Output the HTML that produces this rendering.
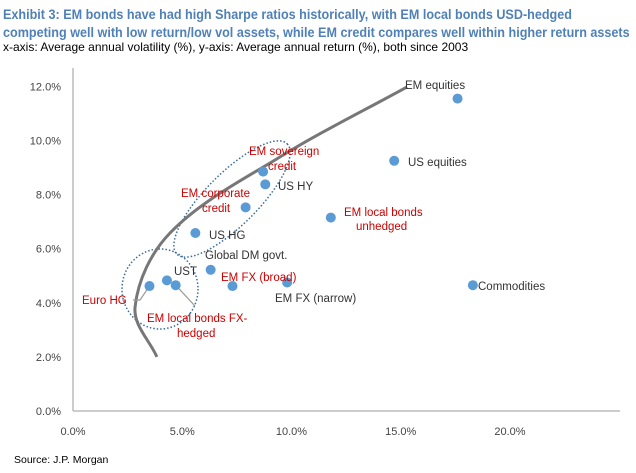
<!DOCTYPE html>
<html><head><meta charset="utf-8">
<style>
body{margin:0;background:#fff;font-family:"Liberation Sans",Arial,sans-serif;}
#wrap{position:relative;width:636px;height:473px;overflow:hidden;}
.t{position:absolute;left:3px;color:#4f81b8;font-weight:bold;font-size:14px;line-height:18px;white-space:nowrap;transform:scaleX(0.9);transform-origin:0 0}
</style></head><body>
<div id="wrap">
<div class="t" style="top:5px">Exhibit 3: EM bonds have had high Sharpe ratios historically, with EM local bonds USD-hedged<br>competing well with low return/low vol assets, while EM credit compares well within higher return assets</div>
<div style="position:absolute;left:3px;top:40px;font-size:12px;color:#000;white-space:nowrap">x-axis: Average annual volatility (%), y-axis: Average annual return (%), both since 2003</div>
<div style="position:absolute;left:14px;top:454px;font-size:10.5px;color:#000">Source: J.P. Morgan</div>
<svg id="svg" width="636" height="473" style="position:absolute;left:0;top:0"></svg>
</div>
<script>
const names=["EM equities","US equities","Commodities","EM local bonds unhedged","EM FX (narrow)","EM FX (broad)","Global DM govt.","US HG","EM corporate credit","US HY","EM sovereign credit","UST","EM local bonds FX-hedged","Euro HG"];
const vol=[17.6,14.7,18.3,11.8,9.8,7.3,6.3,5.6,7.9,8.8,8.7,4.3,4.7,3.5];
const ret=[11.55,9.25,4.65,7.15,4.75,4.62,5.22,6.58,7.53,8.38,8.85,4.83,4.65,4.62];
const frontierVol=[3.84,2.84,4.44,9.47,15.29];
const frontierRet=[2.0,3.84,6.58,9.39,11.98];
const xTicks=[0,5,10,15,20];
const yTicks=[0,2,4,6,8,10,12];
const X=v=>73+v*21.85, Y=v=>411-v*27.05;
const svg=document.getElementById('svg'),NS="http://www.w3.org/2000/svg";
function el(t,a,p){const e=document.createElementNS(NS,t);for(const k in a)e.setAttribute(k,a[k]);(p||svg).appendChild(e);return e;}
let e;
e=el('line',{x1:73,y1:68,x2:73,y2:411,stroke:'#bbb','stroke-width':1.5});

e=el('line',{x1:73,y1:411,x2:620,y2:411,stroke:'#bbb','stroke-width':1.5});

yTicks.forEach(v=>{const t=el('text',{x:61,y:Y(v)+4,'text-anchor':'end','font-size':11,fill:'#444'});t.textContent=v.toFixed(1)+'%';
});
xTicks.forEach(v=>{const t=el('text',{x:X(v),y:435,'text-anchor':'middle','font-size':11,fill:'#444'});t.textContent=v.toFixed(1)+'%';
});
e=el('ellipse',{cx:232,cy:199,rx:78,ry:26,transform:'rotate(-45 232 199)',fill:'none',stroke:'#3a6d9a','stroke-width':1.5,'stroke-dasharray':'1.5 2'});

e=el('ellipse',{cx:160,cy:289,rx:38,ry:40,fill:'none',stroke:'#3a6d9a','stroke-width':1.5,'stroke-dasharray':'1.5 2'});

const P=frontierVol.map((v,i)=>[X(v),Y(frontierRet[i])]);
const n=P.length,T=[];
for(let i=0;i<n;i++){const a=P[Math.max(0,i-1)],b=P[Math.min(n-1,i+1)];const dx=b[0]-a[0],dy=b[1]-a[1],L=Math.hypot(dx,dy)||1;T.push([dx/L,dy/L]);}
let d='M'+P[0].join(',');
for(let i=0;i<n-1;i++){const p1=P[i],p2=P[i+1];const s=Math.hypot(p2[0]-p1[0],p2[1]-p1[1])/3;
d+=` C${p1[0]+T[i][0]*s},${p1[1]+T[i][1]*s} ${p2[0]-T[i+1][0]*s},${p2[1]-T[i+1][1]*s} ${p2[0]},${p2[1]}`;}
e=el('path',{d:d,fill:'none',stroke:'#777','stroke-width':3});

e=el('polyline',{points:`${X(3.5)},${Y(4.62)} 140,300 133,300`,fill:'none',stroke:'#999','stroke-width':1.2});

e=el('line',{x1:X(4.7),y1:Y(4.65),x2:195,y2:306,stroke:'#999','stroke-width':1.2});

vol.forEach((v,i)=>{const c=el('circle',{cx:X(v),cy:Y(ret[i]),r:5,fill:'#5b9bd5'});

});
const labels=[
["EM equities",405,89,'#333','start'],["US equities",408,166,'#333','start'],["Commodities",478,290,'#333','start'],
["EM local bonds",344,216,'#c00','start'],["unhedged",356,230,'#c00','start'],
["EM FX (narrow)",275,302,'#333','start'],["EM FX (broad)",221,281,'#c00','start'],
["Global DM govt.",205,259,'#333','start'],["US HG",209,239,'#333','start'],
["EM corporate",181,197,'#c00','start'],["credit",202,212,'#c00','start'],
["US HY",278,190,'#333','start'],["EM sovereign",249,155,'#c00','start'],["credit",268,170,'#c00','start'],
["UST",174,275,'#333','start'],["Euro HG",82,304,'#c00','start'],
["EM local bonds FX-",147,322,'#c00','start'],["hedged",177,337,'#c00','start']];
labels.forEach(l=>{const t=el('text',{x:l[1],y:l[2],'font-size':11.5,fill:l[3],'text-anchor':l[4]});t.textContent=l[0];
});
</script>
</body></html>
